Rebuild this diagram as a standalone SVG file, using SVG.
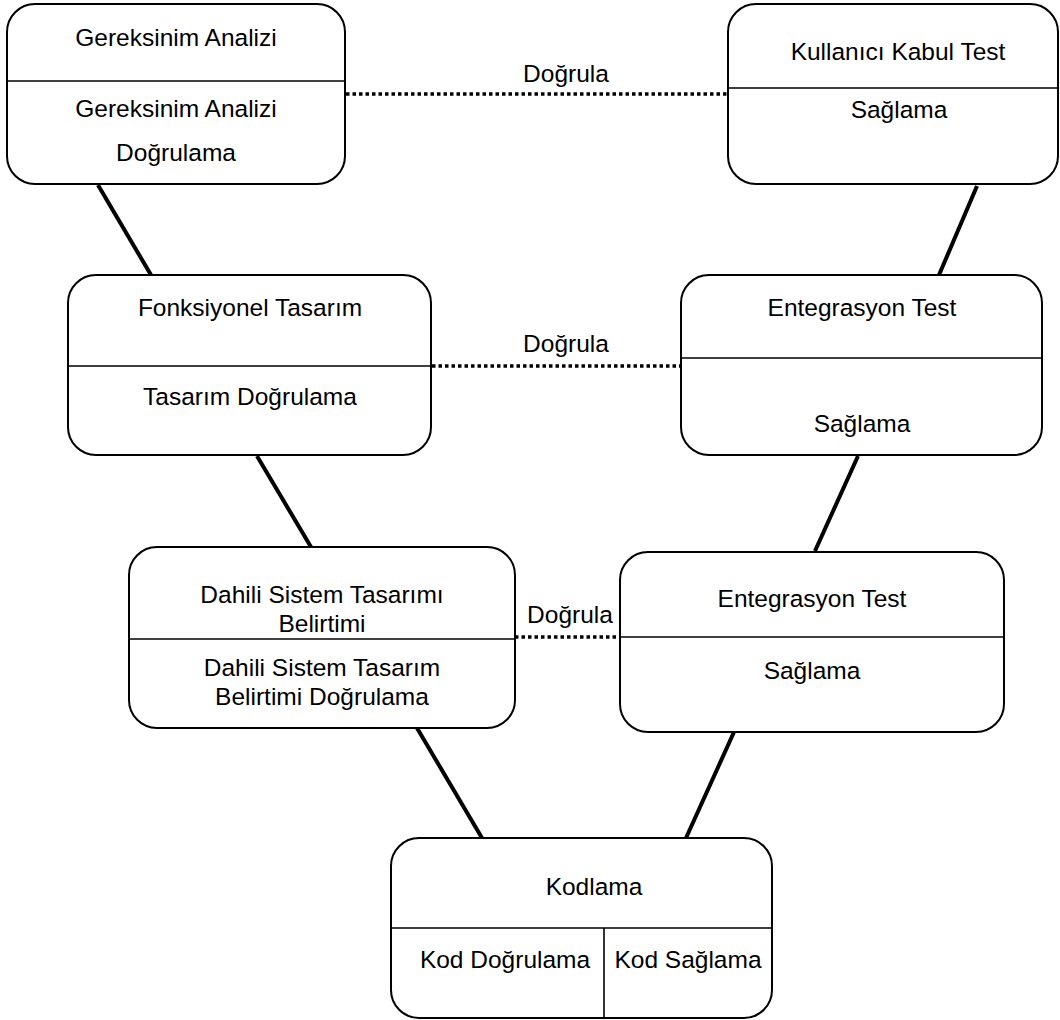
<svg xmlns="http://www.w3.org/2000/svg" width="1060" height="1020" viewBox="0 0 1060 1020">
  <style>
    .box { fill: #ffffff; stroke: #000000; stroke-width: 2; }
    .div { stroke: #000000; stroke-width: 1.6; fill: none; }
    .link { stroke: #000000; stroke-width: 4; fill: none; }
    .verify { stroke: #000000; stroke-width: 3.5; stroke-dasharray: 3.5 3; fill: none; }
    text { font-family: "Liberation Sans", Arial, sans-serif; font-size: 24.5px; fill: #000000; text-anchor: middle; }
  </style>

  <rect width="1060" height="1020" fill="#ffffff"/>

  <!-- connectors: solid phase links and dotted verification links -->
  <g id="connectors">
    <line class="link" x1="98" y1="185" x2="151" y2="275"/>
    <line class="link" x1="977" y1="186" x2="939" y2="275"/>
    <line class="link" x1="257" y1="456" x2="311" y2="547"/>
    <line class="link" x1="858" y1="456" x2="815" y2="551"/>
    <line class="link" x1="417" y1="728" x2="482" y2="838"/>
    <line class="link" x1="734" y1="732" x2="686" y2="838"/>

    <line class="verify" x1="346" y1="94" x2="728" y2="94"/>
    <text x="566" y="82">Doğrula</text>
    <line class="verify" x1="432" y1="366" x2="681" y2="366"/>
    <text x="566" y="352">Doğrula</text>
    <line class="verify" x1="515" y1="637" x2="620" y2="637"/>
    <text x="570" y="623">Doğrula</text>
  </g>

  <g id="gereksinim-analizi">
    <rect class="box" x="7" y="4" width="338" height="180" rx="28"/>
    <line class="div" x1="7" y1="81" x2="345" y2="81"/>
    <text x="176" y="46">Gereksinim Analizi</text>
    <text x="176" y="117">Gereksinim Analizi</text>
    <text x="176" y="161">Doğrulama</text>
  </g>

  <g id="kullanici-kabul-test">
    <rect class="box" x="728" y="4" width="330" height="180" rx="28"/>
    <line class="div" x1="728" y1="88" x2="1058" y2="88"/>
    <text x="898" y="60">Kullanıcı Kabul Test</text>
    <text x="899" y="118">Sağlama</text>
  </g>

  <g id="fonksiyonel-tasarim">
    <rect class="box" x="68" y="275" width="363" height="180" rx="28"/>
    <line class="div" x1="68" y1="366" x2="431" y2="366"/>
    <text x="250" y="316">Fonksiyonel Tasarım</text>
    <text x="250" y="405">Tasarım Doğrulama</text>
  </g>

  <g id="entegrasyon-test-1">
    <rect class="box" x="681" y="275" width="361" height="180" rx="28"/>
    <line class="div" x1="681" y1="358" x2="1042" y2="358"/>
    <text x="862" y="316">Entegrasyon Test</text>
    <text x="862" y="432">Sağlama</text>
  </g>

  <g id="dahili-sistem-tasarimi">
    <rect class="box" x="129" y="547" width="386" height="181" rx="28"/>
    <line class="div" x1="129" y1="639" x2="515" y2="639"/>
    <text x="322" y="603">Dahili Sistem Tasarımı</text>
    <text x="322" y="632">Belirtimi</text>
    <text x="322" y="676">Dahili Sistem Tasarım</text>
    <text x="322" y="705">Belirtimi Doğrulama</text>
  </g>

  <g id="entegrasyon-test-2">
    <rect class="box" x="620" y="552" width="384" height="180" rx="28"/>
    <line class="div" x1="620" y1="637" x2="1004" y2="637"/>
    <text x="812" y="607">Entegrasyon Test</text>
    <text x="812" y="679">Sağlama</text>
  </g>

  <g id="kodlama">
    <rect class="box" x="391" y="838" width="381" height="180" rx="28"/>
    <line class="div" x1="391" y1="928" x2="772" y2="928"/>
    <line class="div" x1="604" y1="928" x2="604" y2="1018"/>
    <text x="594" y="895">Kodlama</text>
    <text x="505" y="968">Kod Doğrulama</text>
    <text x="688" y="968">Kod Sağlama</text>
  </g>
</svg>
